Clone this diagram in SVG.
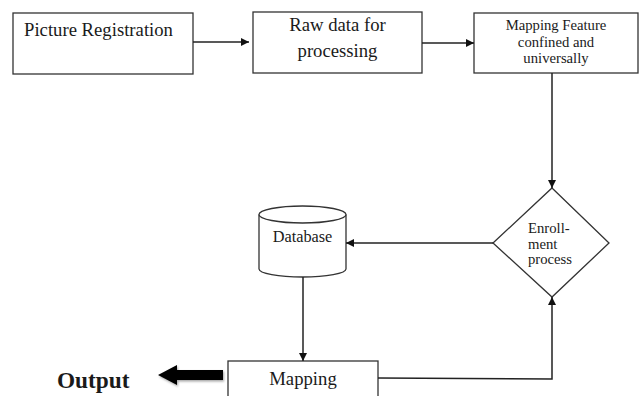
<svg xmlns="http://www.w3.org/2000/svg" width="642" height="396" viewBox="0 0 642 396">
  <defs>
    <marker id="arrow" viewBox="0 0 10 10" refX="10" refY="5" markerWidth="8" markerHeight="8" markerUnits="userSpaceOnUse" orient="auto">
      <path d="M0,0 L10,5 L0,10 z" fill="#111"/>
    </marker>
    <filter id="shadow" x="-20%" y="-40%" width="140%" height="180%">
      <feDropShadow dx="1" dy="1.5" stdDeviation="1" flood-color="#000" flood-opacity="0.35"/>
    </filter>
  </defs>
  <style>
    .box { fill: #fff; stroke: #333; stroke-width: 1.3; }
    .edge { fill: none; stroke: #222; stroke-width: 1.5; }
    .t { font-family: "Liberation Serif", "Times New Roman", serif; fill: #1a1a1a; }
  </style>
  <rect width="642" height="396" fill="#fff"/>

  <g id="picture-registration">
    <rect class="box" x="13" y="13" width="180" height="61"/>
    <text class="t" x="24" y="36" font-size="18.7">Picture Registration</text>
  </g>

  <g id="raw-data">
    <rect class="box" x="253" y="12" width="169" height="61"/>
    <text class="t" x="337.5" y="31" font-size="18.7" text-anchor="middle">Raw data for</text>
    <text class="t" x="337.5" y="57" font-size="18.7" text-anchor="middle">processing</text>
  </g>

  <g id="mapping-feature">
    <rect class="box" x="474" y="13" width="164" height="60"/>
    <text class="t" x="556" y="30" font-size="14.7" text-anchor="middle">Mapping Feature</text>
    <text class="t" x="556" y="47" font-size="14.7" text-anchor="middle">confined and</text>
    <text class="t" x="556" y="63" font-size="14.7" text-anchor="middle">universally</text>
  </g>

  <g id="enrollment">
    <polygon class="box" points="552,188 609,243 552,297 493,243"/>
    <text class="t" x="528" y="233" font-size="14.7">Enroll-</text>
    <text class="t" x="528" y="249" font-size="14.7">ment</text>
    <text class="t" x="528" y="264" font-size="14.7">process</text>
  </g>

  <g id="database">
    <path class="box" d="M259,214.5 L259,269 A43.5,8 0 0 0 346,269 L346,214.5"/>
    <ellipse class="box" cx="302.5" cy="214.5" rx="43.5" ry="8.5"/>
    <text class="t" x="302.5" y="242" font-size="16.3" text-anchor="middle">Database</text>
  </g>

  <g id="mapping">
    <rect class="box" x="228" y="361" width="150" height="40"/>
    <text class="t" x="303" y="385" font-size="18.7" text-anchor="middle">Mapping</text>
  </g>

  <g id="output">
    <text class="t" x="57" y="388" font-size="23.3" font-weight="bold">Output</text>
  </g>

  <g id="connectors">
    <line class="edge" x1="193" y1="42" x2="249" y2="42" marker-end="url(#arrow)"/>
    <line class="edge" x1="422" y1="43" x2="474" y2="43" marker-end="url(#arrow)"/>
    <line class="edge" x1="552" y1="73" x2="552" y2="188" marker-end="url(#arrow)"/>
    <line class="edge" x1="493" y1="243" x2="346" y2="243" marker-end="url(#arrow)"/>
    <line class="edge" x1="303" y1="277" x2="303" y2="361" marker-end="url(#arrow)"/>
    <polyline class="edge" points="378,378 552,379 552,297" marker-end="url(#arrow)"/>
    <path d="M158,375 L177,365 L177,370 L223,370 L223,380 L177,380 L177,385 z" fill="#000" filter="url(#shadow)"/>
  </g>
</svg>
